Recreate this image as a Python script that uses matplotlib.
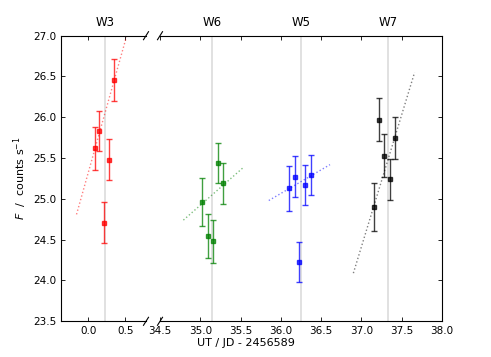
import matplotlib
matplotlib.use("Agg")
import matplotlib.pyplot as plt
import matplotlib.transforms as mtransforms


# data

w3_t = [0.09, 0.15, 0.216, 0.284, 0.35]
w3_f = [25.62, 25.83, 24.71, 25.48, 26.46]
w3_err = [0.26, 0.245, 0.25, 0.25, 0.255]

w6_t = [35.025, 35.09, 35.16, 35.22, 35.28]
w6_f = [24.96, 24.54, 24.48, 25.44, 25.19]
w6_err = [0.29, 0.27, 0.26, 0.25, 0.255]

w5_t = [36.10, 36.17, 36.23, 36.30, 36.37]
w5_f = [25.13, 25.27, 24.23, 25.17, 25.29]
w5_err = [0.275, 0.25, 0.245, 0.25, 0.245]

w7_t = [37.16, 37.22, 37.28, 37.35, 37.42]
w7_f = [24.90, 25.97, 25.53, 25.24, 25.75]
w7_err = [0.29, 0.265, 0.26, 0.255, 0.255]

# fitted trends (end points)
w3_fit_t = [-0.16, 0.55]
w3_fit_f = [24.81, 27.10]
w6_fit_t = [34.79, 35.54]
w6_fit_f = [24.74, 25.39]
w5_fit_t = [35.85, 36.61]
w5_fit_f = [24.98, 25.42]
w7_fit_t = [36.90, 37.66]
w7_fit_f = [24.09, 26.55]

# window mid times
window_names = ["W3", "W6", "W5", "W7"]
window_mid = [0.226, 35.15, 36.25, 37.335]


plt.rcParams["font.size"] = 7.5

fig = plt.figure(figsize=(4.91, 3.57), dpi=100)

ax1 = fig.add_axes([61 / 491, 0.1, 85 / 491, 0.8])
ax2 = fig.add_axes([160 / 491, 0.1, 282 / 491, 0.8])

series = [
    (ax1, w3_t, w3_f, w3_err, w3_fit_t, w3_fit_f, "#ff0000"),
    (ax2, w6_t, w6_f, w6_err, w6_fit_t, w6_fit_f, "#008000"),
    (ax2, w5_t, w5_f, w5_err, w5_fit_t, w5_fit_f, "#0000ff"),
    (ax2, w7_t, w7_f, w7_err, w7_fit_t, w7_fit_f, "#000000"),
]

for name, mid in zip(window_names, window_mid):
    ax = ax1 if mid < 10 else ax2
    ax.axvline(mid, color="0.87", linewidth=1.3, zorder=0)
    trans = mtransforms.blended_transform_factory(ax.transData, ax.transAxes)
    ax.text(mid, 1.022, name, transform=trans, ha="center", va="bottom",
            fontsize=8.5)

for ax, t, f, err, ft, fft, c in series:
    ax.errorbar(t, f, yerr=err, fmt="s", color=c, markersize=2.8,
                capsize=2, elinewidth=1, alpha=0.75)
    ax.plot(ft, fft, ":", color=c, linewidth=1, alpha=0.5)

ax1.set_xlim(-0.37, 0.78)
ax2.set_xlim(34.5, 38.0)
for ax in (ax1, ax2):
    ax.set_ylim(23.5, 27.0)
    ax.tick_params(direction="in", top=True, length=3, width=0.6)

ax1.set_xticks([0.0, 0.5])
ax1.set_xticklabels(["0.0", "0.5"])
ax1.set_yticks([23.5, 24.0, 24.5, 25.0, 25.5, 26.0, 26.5, 27.0])
ax1.spines["right"].set_visible(False)
ax1.tick_params(right=False)

ax2.set_xticks([34.5, 35.0, 35.5, 36.0, 36.5, 37.0, 37.5, 38.0])
ax2.set_yticks([23.5, 24.0, 24.5, 25.0, 25.5, 26.0, 26.5, 27.0])
ax2.spines["left"].set_visible(False)
ax2.tick_params(left=False, labelleft=False, right=True)

# break marks
kw = dict(color="k", clip_on=False, linewidth=0.8)
dx1, dx2, dy = 2.5 / 85, 2.5 / 282, 0.014
for y in (0, 1):
    ax1.plot((1 - dx1, 1 + dx1), (y - dy, y + dy), transform=ax1.transAxes, **kw)
    ax2.plot((-dx2, dx2), (y - dy, y + dy), transform=ax2.transAxes, **kw)

fig.text(20 / 491, 0.5, "$F$  /  counts s$^{-1}$", rotation=90,
         ha="center", va="center", fontsize=8)
fig.text(0.5, 1 - 343 / 357, "UT / JD - 2456589", ha="center",
         va="center", fontsize=8)

plt.savefig("out.png", dpi=100)
